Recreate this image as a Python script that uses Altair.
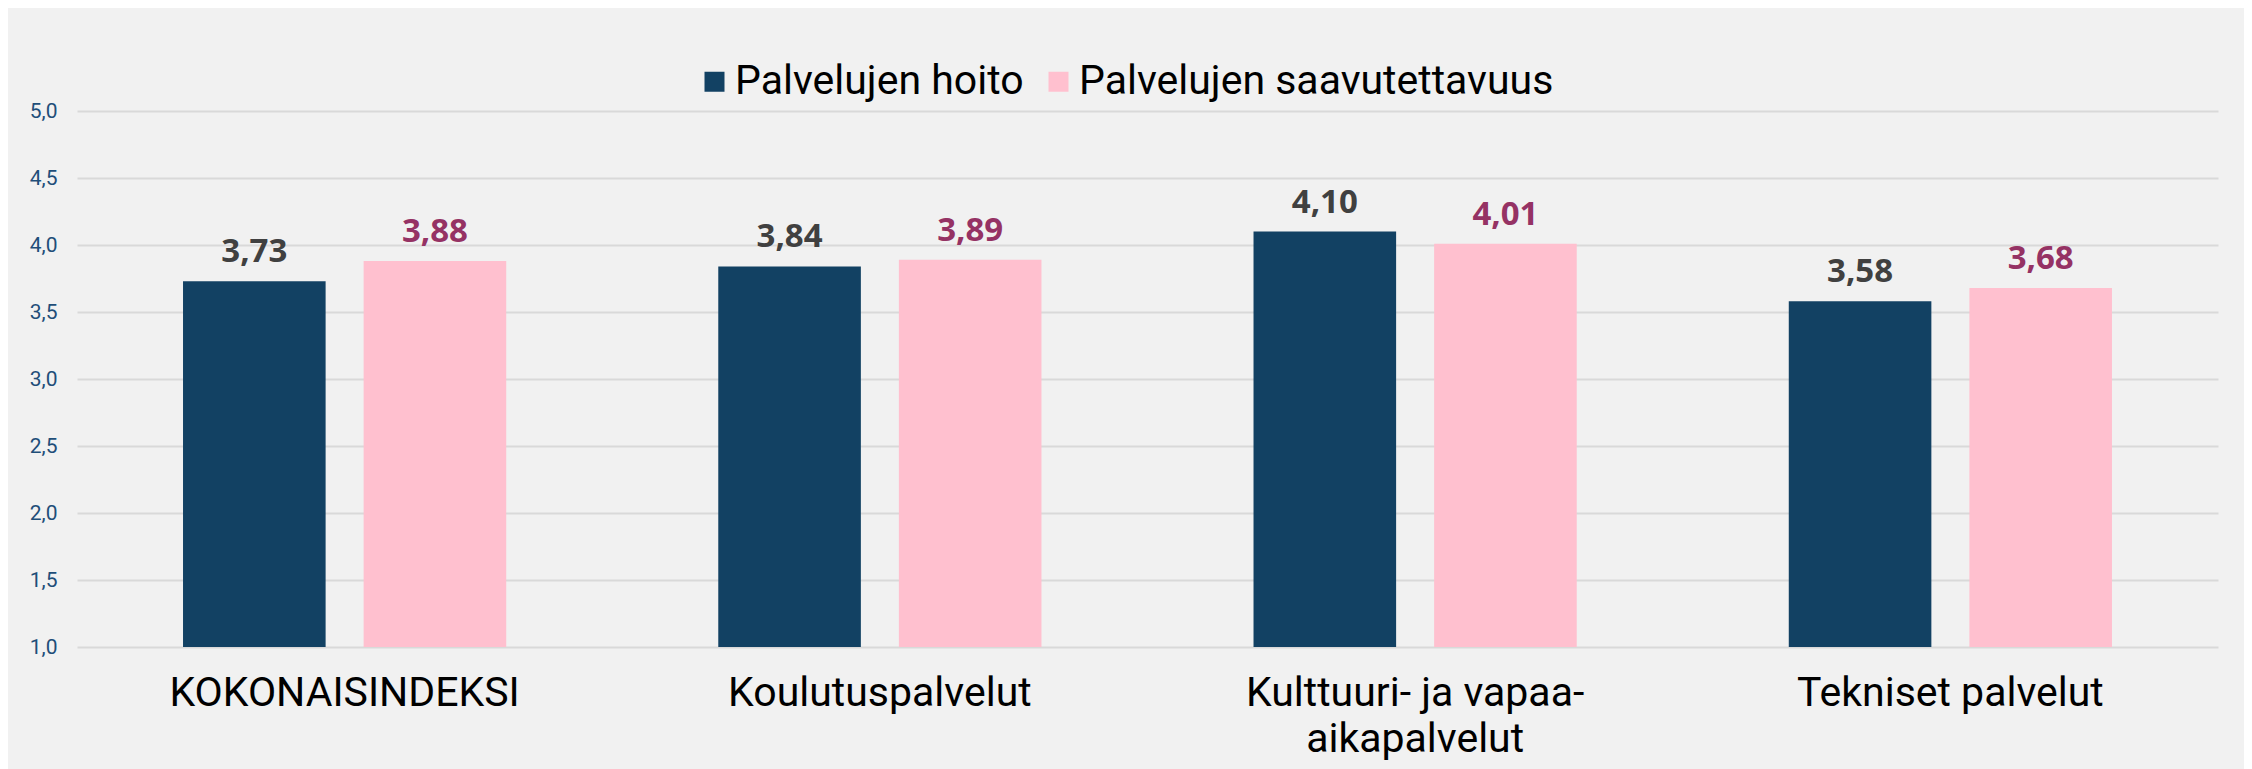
import altair as alt
import pandas as pd

categories = ["KOKONAISINDEKSI", "Koulutuspalvelut", "Kulttuuri- ja vapaa-|aikapalvelut", "Tekniset palvelut"]
series = ["Palvelujen hoito", "Palvelujen saavutettavuus"]
hoito = [3.73, 3.84, 4.10, 3.58]
saavutettavuus = [3.88, 3.89, 4.01, 3.68]
y_ticks = [1.0, 1.5, 2.0, 2.5, 3.0, 3.5, 4.0, 4.5, 5.0]

bar_colors = ["#124163", "#FFC0CF"]
text_colors = ["#404040", "#953264"]

rows = []
for i, c in enumerate(categories):
    rows.append({"cat": c, "series": series[0], "value": hoito[i], "tcol": text_colors[0]})
    rows.append({"cat": c, "series": series[1], "value": saavutettavuus[i], "tcol": text_colors[1]})
df = pd.DataFrame(rows)

x_enc = alt.X("cat:N", sort=categories, title=None,
              scale=alt.Scale(paddingInner=0, paddingOuter=0),
              axis=alt.Axis(labelExpr="split(datum.label, '|')", labelAngle=0,
                            labelFont="Roboto", labelFontSize=41, labelColor="#000000",
                            labelPadding=26, labelLineHeight=46, ticks=False, domain=False,
                            grid=False, labelBaseline="top", labelLimit=0))
xo_enc = alt.XOffset("series:N", sort=series,
                     scale=alt.Scale(paddingInner=0.2105, paddingOuter=0.587))
y_enc = alt.Y("value:Q", title=None,
              scale=alt.Scale(domain=[1, 5], zero=False, nice=False),
              axis=alt.Axis(values=y_ticks, labelExpr="replace(format(datum.value, '.1f'), '.', ',')",
                            labelFont="Roboto", labelFontSize=21, labelColor="#1f4e79",
                            labelPadding=20, ticks=False, domain=False,
                            gridColor="#d9d9d9", gridWidth=2))

bars = alt.Chart(df).mark_bar().encode(
    x=x_enc, xOffset=xo_enc, y=y_enc, y2=alt.datum(1),
    color=alt.Color("series:N", sort=series, title=None,
                    scale=alt.Scale(domain=series, range=bar_colors),
                    legend=alt.Legend(orient="none", legendX=617, legendY=-50, direction="horizontal",
                                      symbolType="square", symbolSize=400, symbolStrokeWidth=0,
                                      labelFont="Roboto", labelFontSize=41, labelColor="#000000",
                                      labelOffset=0, columnPadding=14, padding=0, labelLimit=0)),
)

labels = alt.Chart(df).transform_calculate(
    lab="replace(format(datum.value, '.2f'), '.', ',')"
).mark_text(font="Open Sans", fontWeight="bold", fontSize=33, baseline="alphabetic", dy=-19).encode(
    x=alt.X("cat:N", sort=categories), xOffset=alt.XOffset("series:N", sort=series), y="value:Q",
    text="lab:N",
    color=alt.Color("tcol:N", scale=None, legend=None),
)

chart = alt.layer(bars, labels).resolve_scale(color="independent").properties(
    width=2141, height=536,
    background="#f1f1f1",
    padding={"left": 69, "top": 103, "right": 26, "bottom": 122},
    autosize=alt.AutoSizeParams(type="none"),
).configure_view(stroke=None)

chart.save("out.html", embed_options={"renderer": "svg", "actions": False})
